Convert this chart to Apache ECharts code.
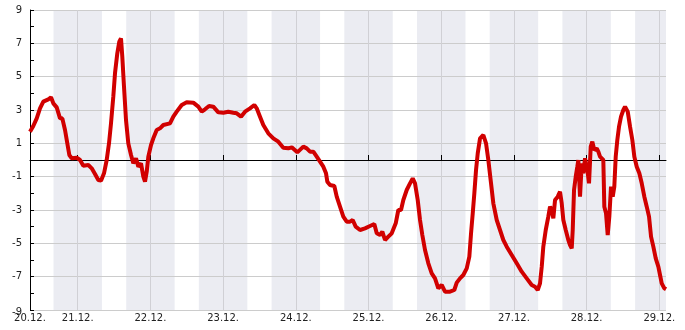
<!DOCTYPE html>
<html>
<head>
<meta charset="utf-8">
<script src="https://cdn.jsdelivr.net/npm/echarts@6/dist/echarts.min.js"></script>
<style>html,body{margin:0;padding:0;background:#fff}#c{width:685px;height:330px}</style>
</head>
<body>
<div id="c"></div>
<script>
// x values: hours since 20.12. 00:00
var xStart = 8.25, xEnd = 218.2;
var dayLabels = ['20.12.','21.12.','22.12.','23.12.','24.12.','25.12.','26.12.','27.12.','28.12.','29.12.'];
var midnights = [24,48,72,96,120,144,168,192,216];
var labelPositions = [8.25,24,48,72,96,120,144,168,192,216];
var yLabels = [-9,-7,-5,-3,-1,1,3,5,7,9];
// night bands [from, to] in hours
var nights = [[16,32],[40,56],[64,80],[88,104],[112,128],[136,152],[160,176],[184,200],[208,224]];
// temperature readings [hour, °C]
var readings = [
[8.25,1.7],[9.34,2.04],[10.47,2.5],[11.55,3.1],[12.64,3.5],[14.29,3.64],[15.19,3.76],[15.95,3.4],[17.07,3.16],[18.16,2.5],
[18.92,2.5],[19.81,1.8],[20.57,1.0],[21.23,0.3],[22.02,0.1],[23.67,0.14],[24.76,0],[25.85,-0.34],[27.50,-0.3],[28.62,-0.5],
[29.71,-0.84],[30.80,-1.2],[31.69,-1.24],[32.68,-0.8],[33.57,0],[34.33,1.0],[34.99,2.2],[35.75,3.8],[36.31,5.2],[37.07,6.4],
[37.73,7.1],[38.29,7.3],[38.72,6.2],[39.28,4.4],[39.94,2.4],[40.70,1.0],[41.60,0.3],[42.35,-0.2],[43.25,0.1],[44.01,-0.4],
[44.90,-0.2],[45.66,-1.0],[46.22,-1.3],[46.78,-0.7],[47.31,0.2],[48.20,0.9],[48.96,1.3],[50.08,1.8],[51.17,1.9],[52.26,2.1],
[54.47,2.2],[55.56,2.6],[56.68,2.9],[58.33,3.3],[59.98,3.46],[62.16,3.44],[63.81,3.2],[64.94,2.9],[66.02,3.04],[67.35,3.24],
[68.76,3.2],[70.42,2.86],[72.07,2.84],[73.72,2.9],[75.37,2.84],[76.49,2.8],[77.91,2.6],[79.23,2.9],[80.88,3.1],[82.30,3.3],
[83.09,3.1],[84.18,2.6],[85.27,2.1],[86.92,1.6],[88.57,1.3],[90.22,1.1],[91.87,0.74],[93.52,0.7],[94.65,0.76],[96.50,0.46],
[98.48,0.8],[99.60,0.7],[100.69,0.5],[101.78,0.5],[102.90,0.2],[103.99,-0.1],[105.08,-0.4],[105.97,-0.8],[106.40,-1.3],[107.29,-1.5],
[108.71,-1.56],[109.50,-2.2],[110.59,-2.8],[111.68,-3.4],[112.80,-3.7],[113.89,-3.7],[114.78,-3.6],[115.77,-4.0],[117.19,-4.2],[118.84,-4.1],
[120.49,-3.96],[121.91,-3.84],[122.71,-4.4],[123.80,-4.5],[124.56,-4.3],[125.45,-4.8],[126.54,-4.6],[127.66,-4.4],[128.98,-3.8],[129.84,-3.0],
[130.73,-3.0],[131.49,-2.4],[132.61,-1.8],[133.70,-1.4],[134.59,-1.1],[135.35,-1.4],[136.24,-2.4],[137.00,-3.6],[137.76,-4.5],[138.65,-5.4],
[139.74,-6.2],[140.86,-6.8],[141.95,-7.1],[143.04,-7.7],[144.16,-7.5],[145.25,-7.9],[146.90,-7.9],[148.32,-7.8],[149.12,-7.36],[150.20,-7.1],
[151.29,-6.9],[152.42,-6.5],[153.28,-5.8],[153.84,-4.4],[154.40,-3.2],[154.93,-2.0],[155.49,-0.6],[156.05,0.4],[156.81,1.3],[157.90,1.5],
[158.79,1.0],[159.55,0],[160.44,-1.4],[161.20,-2.6],[162.32,-3.6],[163.41,-4.2],[164.50,-4.8],[165.62,-5.2],[167.27,-5.7],[168.92,-6.2],
[170.57,-6.7],[172.22,-7.1],[173.87,-7.5],[174.96,-7.6],[175.86,-7.8],[176.61,-7.4],[177.18,-6.4],[177.70,-5.2],[178.50,-4.2],[179.35,-3.4],
[179.92,-2.8],[180.48,-3.0],[181.01,-3.5],[181.57,-2.4],[182.46,-2.2],[183.22,-1.9],[183.78,-2.6],[184.31,-3.6],[185.10,-4.2],[185.96,-4.8],
[186.52,-5.1],[187.08,-5.3],[187.41,-4.2],[187.84,-1.8],[188.40,-1.0],[188.93,-0.4],[189.26,0],[189.82,-2.2],[190.38,-0.2],[190.91,-0.8],
[191.47,0.1],[192.23,-0.6],[192.79,-1.4],[193.35,0.8],[193.88,1.1],[194.54,0.6],[195.33,0.7],[195.86,0.5],[196.42,0.2],[196.98,0.1],
[197.51,0],[197.84,-2.8],[198.40,-3.2],[198.96,-4.5],[199.49,-3.4],[200.05,-1.6],[200.61,-2.2],[201.14,-1.6],[201.60,0.2],[202.13,1.2],
[202.69,2.0],[203.35,2.6],[204.11,3.0],[204.68,3.2],[205.57,2.9],[206.33,2.0],[207.09,1.2],[207.75,0.2],[208.54,-0.4],[209.40,-0.8],
[210.19,-1.4],[211.05,-2.2],[211.84,-2.8],[212.60,-3.4],[213.26,-4.6],[214.02,-5.2],[214.81,-5.9],[215.67,-6.4],[216.23,-6.9],[216.79,-7.4],
[217.65,-7.7],[218.21,-7.76]
];

var chart = echarts.init(document.getElementById('c'), null, {renderer: 'canvas'});
var font = 'DejaVu Sans';
chart.setOption({
  animation: false,
  grid: {left: 30, right: 19, top: 10, bottom: 20, containLabel: false},
  xAxis: {
    type: 'value', min: xStart, max: xEnd, z: 3,
    axisLine: {show: true, lineStyle: {color: '#000', width: 1}},
    axisTick: {show: true, inside: true, length: 5, customValues: midnights, lineStyle: {color: '#000'}},
    axisLabel: {
      customValues: labelPositions, margin: 3, color: '#222', fontSize: 10, fontFamily: font,
      formatter: function (v) { return dayLabels[Math.floor(v / 24)]; }
    },
    splitLine: {show: true, lineStyle: {color: '#d0d0d5', width: 1}}
  },
  yAxis: {
    type: 'value', min: -9, max: 9, interval: 1, z: 3,
    axisLine: {show: true, lineStyle: {color: '#000', width: 1}},
    axisTick: {show: true, inside: true, length: 4, lineStyle: {color: '#000'}},
    axisLabel: {
      margin: 8, color: '#222', fontSize: 10, fontFamily: font,
      verticalAlignMinLabel: 'top',
      rich: {low: {fontSize: 10, fontFamily: font, color: '#222', lineHeight: 5}},
      formatter: function (v) {
        if (yLabels.indexOf(v) < 0) return '';
        return v === yLabels[0] ? '{low|' + v + '}' : String(v);
      }
    },
    splitLine: {show: true, lineStyle: {color: ['#cccccc', 'rgba(0,0,0,0)'], width: 1}}
  },
  series: [
    {
      type: 'line', data: [], z: 1, silent: true,
      markLine: {
        z: 1, silent: true, symbol: 'none', label: {show: false},
        lineStyle: {color: '#000', width: 1, type: 'solid'},
        data: [{yAxis: 0}]
      },
      markArea: {
        z: 2, silent: true,
        itemStyle: {color: 'rgba(228,229,237,0.75)'},
        data: nights.map(function (n) { return [{xAxis: n[0]}, {xAxis: n[1]}]; })
      }
    },
    {
      type: 'line', z: 4, data: readings, showSymbol: false, symbol: 'none',
      lineStyle: {color: '#d10000', width: 4}, clip: true
    }
  ]
});
</script>
</body>
</html>
